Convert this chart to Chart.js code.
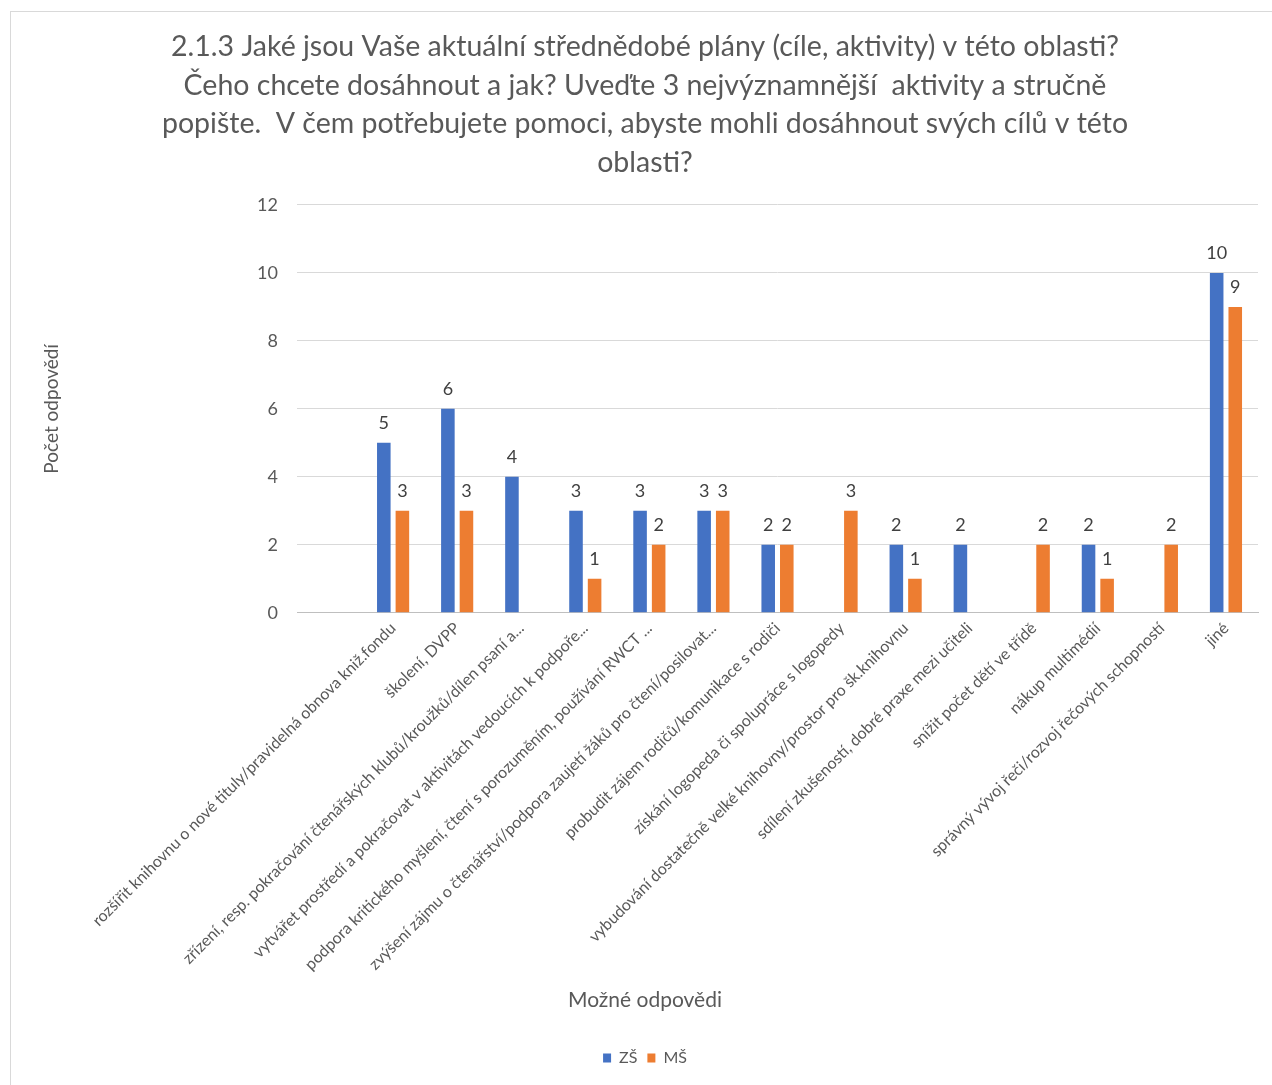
<!DOCTYPE html>
<html lang="cs">
<head>
<meta charset="utf-8">
<title>2.1.3 Střednědobé plány</title>
<script src="https://cdn.jsdelivr.net/npm/chart.js@4.4.1/dist/chart.umd.min.js"></script>
<style>
  html, body { margin: 0; padding: 0; background: #fff; }
  #wrap { position: relative; width: 1272px; height: 1085px; overflow: hidden; }
  #frame { position: absolute; left: 10px; top: 11px; width: 1300px; height: 1100px; border: 1px solid #d9d9d9; }
  canvas { position: absolute; left: 0; top: 0; }
</style>
</head>
<body>
<div id="wrap">
  <div id="frame"></div>
  <canvas id="planChart" width="1272" height="1085"></canvas>
</div>
<script>
// Data
const titleLines = [
  "2.1.3 Jaké jsou Vaše aktuální střednědobé plány (cíle, aktivity) v této oblasti?",
  "Čeho chcete dosáhnout a jak? Uveďte 3 nejvýznamnější  aktivity a stručně",
  "popište.  V čem potřebujete pomoci, abyste mohli dosáhnout svých cílů v této",
  "oblasti?"
];
const categories = [
  "",
  "rozšířit knihovnu o nové tituly/pravidelná obnova kniž.fondu",
  "školení, DVPP",
  "zřízení, resp. pokračování čtenářských klubů/kroužků/dílen psaní a...",
  "vytvářet prostředí a pokračovat v aktivitách vedoucích k podpoře...",
  "podpora kritického myšlení, čtení s porozuměním, používání RWCT ...",
  "zvýšení zájmu o čtenářství/podpora zaujetí žáků pro čtení/posilovat...",
  "probudit zájem rodičů/komunikace s rodiči",
  "získání logopeda či spolupráce s logopedy",
  "vybudování dostatečně velké knihovny/prostor pro šk.knihovnu",
  "sdílení zkušeností, dobré praxe mezi učiteli",
  "snížit počet dětí ve třídě",
  "nákup multimédií",
  "správný vývoj řeči/rozvoj řečových schopností",
  "jiné"
];
const zsValues = [null, 5, 6, 4, 3, 3, 3, 2, null, 2, 2, null, 2, null, 10];
const msValues = [null, 3, 3, null, 1, 2, 3, 2, 3, 1, null, 2, 1, 2, 9];
const yTicks = [0, 2, 4, 6, 8, 10, 12];

const textColor = "#595959";
const fontFamily = "Lato, 'Open Sans', sans-serif";

// value labels above the bars
const valueLabels = {
  id: "valueLabels",
  afterDatasetsDraw(chart) {
    const ctx = chart.ctx;
    ctx.save();
    ctx.font = "18px " + fontFamily;
    ctx.fillStyle = "#404040";
    ctx.textAlign = "center";
    ctx.textBaseline = "middle";
    chart.data.datasets.forEach((ds, i) => {
      chart.getDatasetMeta(i).data.forEach((bar, j) => {
        if (ds.data[j] == null) return;
        ctx.fillText(ds.data[j], bar.x, bar.y - 20);
      });
    });
    ctx.restore();
  }
};

const ctx = document.getElementById("planChart").getContext("2d");

new Chart(ctx, {
  type: "bar",
  data: {
    labels: categories,
    datasets: [
      {
        label: "ZŠ",
        data: zsValues,
        backgroundColor: "#4472C4",
        categoryPercentage: 0.58,
        barPercentage: 0.73
      },
      {
        label: "MŠ",
        data: msValues,
        backgroundColor: "#ED7D31",
        categoryPercentage: 0.58,
        barPercentage: 0.73
      }
    ]
  },
  options: {
    responsive: false,
    animation: false,
    layout: { padding: { left: 32, right: 14, top: 0, bottom: 9 } },
    plugins: {
      tooltip: { enabled: false },
      title: {
        display: true,
        text: titleLines,
        color: textColor,
        font: { family: fontFamily, size: 28.5, weight: "normal", lineHeight: 1.35 },
        padding: { top: 28, bottom: 23 }
      },
      legend: {
        position: "bottom",
        title: {
          display: true,
          text: "Možné odpovědi",
          color: textColor,
          font: { family: fontFamily, size: 21 },
          padding: { top: 0, bottom: 25 }
        },
        labels: {
          color: textColor,
          font: { family: fontFamily, size: 16 },
          boxWidth: 8,
          boxHeight: 9,
          padding: 10
        }
      }
    },
    scales: {
      x: {
        grid: { display: false, drawTicks: false },
        border: { display: true, color: "#bfbfbf", width: 1 },
        ticks: {
          color: textColor,
          font: { family: fontFamily, size: 16 },
          autoSkip: false,
          minRotation: 45,
          maxRotation: 45,
          padding: 6
        },
        afterFit(scale) { scale.height = 377; }
      },
      y: {
        min: 0,
        max: 12,
        afterBuildTicks(scale) { scale.ticks = yTicks.map(v => ({ value: v })); },
        grid: { color: "#d9d9d9", drawTicks: false },
        border: { display: false },
        ticks: {
          color: textColor,
          font: { family: fontFamily, size: 18 },
          padding: 19
        },
        title: {
          display: true,
          text: "Počet odpovědí",
          color: textColor,
          font: { family: fontFamily, size: 19 },
          padding: { top: 8, bottom: 0 }
        },
        afterFit(scale) { scale.width = 265; }
      }
    }
  },
  plugins: [valueLabels]
});
</script>
</body>
</html>
